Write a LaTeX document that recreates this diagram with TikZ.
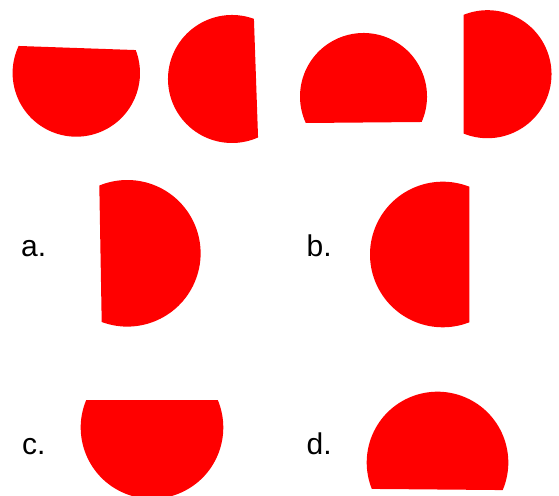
\documentclass[tikz,border=0pt]{standalone}
\usepackage{fontspec}
\setmainfont{Liberation Sans}
\begin{document}
\begin{tikzpicture}[x=1pt,y=1pt,
  piece/.style={fill={rgb,255:red,255;green,0;blue,0}, draw=none},
  lbl/.style={anchor=base west, inner sep=0pt, font=\fontsize{30}{36}\selectfont}]
\useasboundingbox (0,0) rectangle (559,495);
% \seg{cx}{cy}{r}{chord normal angle}{chord distance}
\newcommand\seg[5]{%
  \pgfmathsetmacro\segal{acos(#5/#3)}%
  \pgfmathsetmacro\segA{#4+\segal}%
  \pgfmathsetmacro\segB{#4+360-\segal}%
  \fill[piece] (#1,#2) ++(\segA:#3) arc[start angle=\segA, end angle=\segB, radius=#3] -- cycle;}
% top row
\seg{76.3}{422}{63.7}{88}{25}
\seg{232}{416}{64}{2}{24}
\seg{363.5}{398.5}{63.5}{270.5}{26}
\seg{487.5}{420.8}{64}{180}{24}
% answers
\seg{127.3}{241.7}{73.3}{181}{26.8}
\seg{442.8}{240.5}{72.8}{0}{26.5}
\seg{152}{67.5}{71.3}{90}{27.5}
\seg{437.5}{32.5}{70.8}{269.5}{27}
% labels
\node[lbl] (la) at (21,238.3) {a.};
\node[lbl] (lb) at (306.5,238.3) {b.};
\node[lbl] (lc) at (22,41) {c.};
\node[lbl] (ld) at (306.5,41) {d.};
\end{tikzpicture}
\end{document}
